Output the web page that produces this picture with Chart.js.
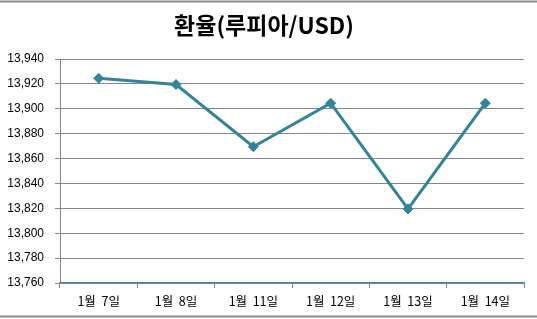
<!DOCTYPE html>
<html><head><meta charset="utf-8">
<script src="https://cdn.jsdelivr.net/npm/chart.js@4/dist/chart.umd.min.js"></script>
<style>html,body{margin:0;padding:0;background:#fff;}#wrap{width:537px;height:319px;position:relative;}</style>
</head><body><div id="wrap"><canvas id="c" width="537" height="319"></canvas></div>
<script>
const titleText = '환율(루피아/USD)';
const categories = ['1월  7일', '1월  8일', '1월  11일', '1월  12일', '1월  13일', '1월  14일'];
const rates = [13924.5, 13919.5, 13869.5, 13904.5, 13819.5, 13904.5];
const yMin = 13760, yMax = 13940, yStep = 20;

const deco = {
  id: 'deco',
  beforeDraw(chart) {
    const ctx = chart.ctx;
    ctx.save();
    ctx.fillStyle = '#fff';
    ctx.fillRect(0, 0, chart.width, chart.height);
    ctx.strokeStyle = '#8c8c8c';
    ctx.lineWidth = 2;
    ctx.beginPath();
    ctx.moveTo(0, 1.5); ctx.lineTo(chart.width, 1.5);
    ctx.moveTo(0, 316.5); ctx.lineTo(chart.width, 316.5);
    ctx.stroke();
    ctx.fillStyle = '#000';
    ctx.font = 'bold 23px "Noto Sans CJK KR"';
    ctx.textAlign = 'center';
    ctx.textBaseline = 'middle';
    ctx.fillText(titleText, 264, 25);
    ctx.restore();
  }
};

new Chart(document.getElementById('c'), {
  type: 'line',
  data: {
    labels: categories,
    datasets: [{
      data: rates,
      borderColor: '#31849b',
      backgroundColor: '#31849b',
      borderWidth: 3,
      pointStyle: 'rectRot',
      pointRadius: 5,
      pointBorderWidth: 1,
      tension: 0
    }]
  },
  options: {
    responsive: false,
    animation: false,
    devicePixelRatio: 1,
    layout: { padding: { top: 59, right: 13, bottom: 0, left: 0 } },
    plugins: { legend: { display: false }, tooltip: { enabled: false }, title: { display: false } },
    scales: {
      x: {
        offset: true,
        afterFit(s) { s.height = 36; },
        grid: { offset: true, drawOnChartArea: false, drawTicks: true, tickLength: 5, color: '#868686' },
        border: { color: '#4a8a9c', width: 1.5 },
        ticks: { color: '#000', padding: 6, maxRotation: 0, font: { family: '"Noto Sans CJK KR"', size: 12.5 } }
      },
      y: {
        min: yMin, max: yMax,
        afterFit(s) { s.width = 60; },
        grid: { color: '#868686', tickLength: 5, lineWidth: 1 },
        border: { color: '#868686' },
        ticks: {
          stepSize: yStep, padding: 11, color: '#000',
          font: { family: '"Liberation Sans", Arial', size: 12 },
          callback: v => v.toLocaleString('en-US')
        }
      }
    }
  },
  plugins: [deco]
});
</script></body></html>
